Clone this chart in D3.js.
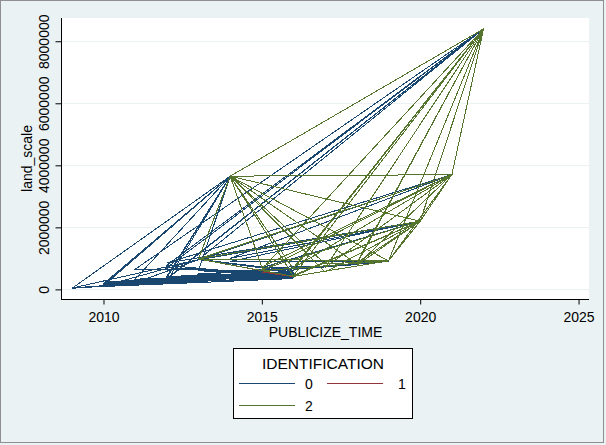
<!DOCTYPE html>
<html><head><meta charset="utf-8">
<script src="https://cdn.jsdelivr.net/npm/d3@7"></script>
<style>
html,body{margin:0;padding:0;background:#eaf2f3;}
svg{display:block;font-family:Arial,"Liberation Sans",sans-serif;}
</style></head>
<body>
<script>
// ---- data (publicize year, land scale) in data order, by IDENTIFICATION group ----
const time0 = [2009,2014,2010,2016,2011,2015,2009,2013,2022,2012,2016,2010,2014,2011,2016,2012,2015,2009,2016,2011,2013,2021,2012,2020,2013,2016,2010,2014,2012,2016,2011,2014,2009,2015,2010,2016,2012,2022,2011,2015,2013,2016,2010,2013,2021,2013,2020,2014,2019,2016,2018,2015,2012,2014,2012,2016,2010,2015,2011,2016,2009,2014,2012,2022,2012,2015,2010,2016,2013,2021,2014,2020,2015,2017,2013,2016,2011,2015,2010,2014,2013,2016,2009];
const scale0 = [30000,3650000,180000,420000,240000,520000,40000,960000,8400000,780000,380000,150000,3650000,330000,480000,300000,430000,50000,350000,210000,960000,3700000,850000,2200000,970000,600000,120000,3650000,420000,520000,280000,460000,35000,480000,200000,440000,350000,8400000,650000,600000,500000,400000,110000,960000,3700000,950000,2200000,900000,900000,650000,800000,640000,380000,3650000,250000,460000,160000,400000,300000,500000,45000,420000,330000,8400000,700000,560000,230000,560000,960000,3700000,1000000,2200000,700000,750000,400000,430000,260000,500000,140000,3650000,600000,470000,40000];
const time1 = [2013,2016,2015];
const scale1 = [980000,410000,560000];
const time2 = [2013,2014,2022,2021,2014,2020,2019,2016,2013,2021,2022,2015,2020,2014,2016,2022,2017,2021,2015,2019,2014,2018,2022,2019,2021,2013,2020,2016,2014,2017,2020,2018,2021,2016,2022,2020,2013,2019,2017,2014,2015,2021,2020,2016,2022,2018,2020,2016,2019,2020,2021,2022];
const scale2 = [980000,3650000,8400000,3700000,3650000,2200000,920000,420000,980000,3700000,8400000,650000,2200000,3650000,650000,8400000,700000,3700000,600000,920000,3650000,820000,8400000,920000,3700000,980000,2200000,420000,3650000,560000,2200000,780000,3700000,700000,8400000,2200000,980000,920000,820000,3650000,720000,3700000,2200000,450000,8400000,860000,2200000,420000,920000,2200000,3700000,8400000];
const groups = ["0","1","2"];
const colors = ["#1a476f","#90353b","#55752f"];
const xTicks = [2010,2015,2020,2025];
const yTicks = [0,2000000,4000000,6000000,8000000];

const W=606,H=445;
const svg=d3.select("body").append("svg").attr("width",W).attr("height",H);
svg.append("rect").attr("x",0).attr("y",0).attr("width",W).attr("height",H).attr("fill","#eaf2f3");
svg.append("rect").attr("x",0.5).attr("y",0.5).attr("width",603).attr("height",442)
   .attr("fill","none").attr("stroke","#8f8f8f");

const L=62,R=589,T=18,B=299;
const x=d3.scaleLinear().domain([2008.69,2025.33]).range([L,R]);
const y=d3.scaleLinear().domain([-310000,8750000]).range([B,T]);

svg.append("rect").attr("x",L).attr("y",T).attr("width",R-L).attr("height",B-T).attr("fill","#ffffff");
// grid
svg.append("g").selectAll("line").data(yTicks).join("line")
  .attr("x1",L).attr("x2",R).attr("y1",d=>Math.round(y(d))+0.5).attr("y2",d=>Math.round(y(d))+0.5)
  .attr("stroke","#eaf2f3").attr("stroke-width",1);

// series
const series=[[time0,scale0],[time1,scale1],[time2,scale2]];
const line=d3.line().x(d=>x(d[0])).y(d=>y(d[1]));
series.forEach((s,i)=>{
  const pts=s[0].map((t,j)=>[t,s[1][j]]);
  svg.append("path").datum(pts).attr("d",line).attr("fill","none")
    .attr("stroke",colors[i]).attr("stroke-width",1).attr("shape-rendering","crispEdges");
});

// axes
const yAxis=d3.axisLeft(y).tickValues(yTicks).tickSize(6).tickFormat(d3.format("d"));
const gy=svg.append("g").attr("transform",`translate(${L-0.5},0)`).call(yAxis);
gy.select(".domain").attr("d",`M0,${T}V${B}`).attr("stroke","#000");
gy.selectAll(".tick line").attr("stroke","#000");
gy.selectAll(".tick text").attr("font-size",14).attr("fill","#000")
  .attr("transform","rotate(-90)").attr("text-anchor","middle")
  .attr("x",0).attr("dy",0).attr("y",-13);

const xAxis=d3.axisBottom(x).tickValues(xTicks).tickSize(5).tickFormat(d3.format("d"));
const gx=svg.append("g").attr("transform",`translate(0,${B+0.5})`).call(xAxis);
gx.select(".domain").attr("d",`M${L-1},0H${R}`).attr("stroke","#000");
gx.selectAll(".tick line").attr("stroke","#000");
gx.selectAll(".tick text").attr("font-size",14).attr("fill","#000").attr("dy",0).attr("y",22);
svg.selectAll(".domain").attr("fill","none");
svg.selectAll("g").attr("font-family",null);

// titles
svg.append("text").attr("x",(L+R)/2).attr("y",337).attr("text-anchor","middle")
  .attr("font-size",14).attr("fill","#000").text("PUBLICIZE_TIME");
svg.append("text").attr("transform",`translate(32,${(T+B)/2}) rotate(-90)`).attr("text-anchor","middle")
  .attr("font-size",14).attr("fill","#000").text("land_scale");

// legend
const lg=svg.append("g");
lg.append("rect").attr("x",233.5).attr("y",348.5).attr("width",179).attr("height",70)
  .attr("fill","#fff").attr("stroke","#000");
lg.append("text").attr("x",323).attr("y",369).attr("text-anchor","middle").attr("font-size",15.5).text("IDENTIFICATION");
const lpos=[[239,383.5,309],[327,383.5,402],[239,405.5,309]];
groups.forEach((g,i)=>{
  lg.append("line").attr("x1",lpos[i][0]).attr("x2",lpos[i][0]+56).attr("y1",lpos[i][1]).attr("y2",lpos[i][1])
    .attr("stroke",colors[i]).attr("stroke-width",1);
  lg.append("text").attr("x",lpos[i][2]).attr("y",lpos[i][1]+5).attr("text-anchor","middle")
    .attr("font-size",14).text(g);
});
</script>
</body></html>
